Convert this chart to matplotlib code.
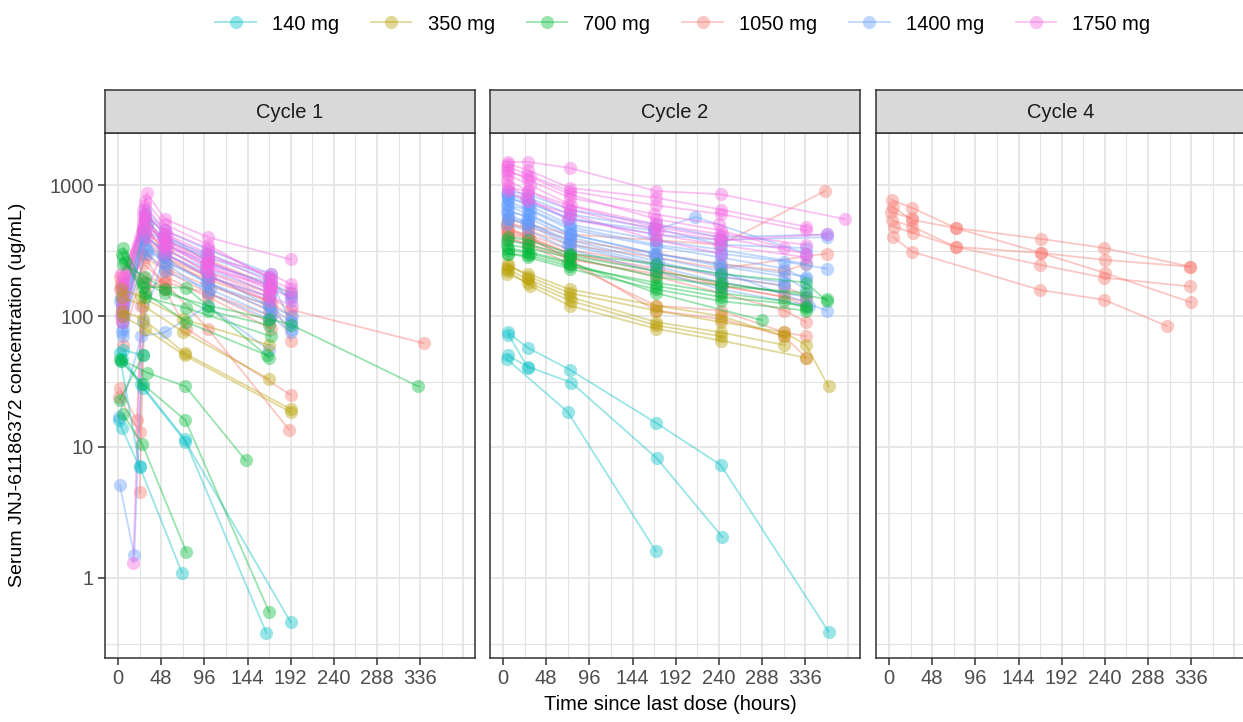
import matplotlib
matplotlib.use("Agg")
import matplotlib.pyplot as plt
from matplotlib.lines import Line2D
import numpy as np

plt.rcParams['font.family'] = ['Liberation Sans', 'DejaVu Sans']

# ---------------------------------------------------------------------------
# data: one (times, concentrations) pair per subject
# ---------------------------------------------------------------------------
doses = ['140 mg', '350 mg', '700 mg', '1050 mg', '1400 mg', '1750 mg']
dose_colors = ['#00BFC4', '#B79F00', '#00BA38', '#F8766D', '#619CFF', '#F564E3']
cycles = ['Cycle 1', 'Cycle 2', 'Cycle 4']
x_ticks = [0, 48, 96, 144, 192, 240, 288, 336]
y_ticks = [1, 10, 100, 1000]

# Cycle 1
c1_140 = [([2, 26, 74, 165], [52, 30, 11.5, 0.38]),
          ([4, 28, 75, 192], [47, 28, 11, 0.46]),
          ([3, 24, 71], [45, 7.1, 1.1]),
          ([1, 4, 24], [16, 14, 7]),
          ([6, 28], [55, 50])]
c1_350 = [([4, 28, 74, 192], [110, 95, 52, 19.5]),
          ([5, 30, 74, 192], [100, 80, 50, 18.5]),
          ([4, 28, 72, 168], [140, 120, 76, 33]),
          ([3, 26, 72, 168], [160, 140, 95, 60])]
c1_700 = [([6, 28, 52, 100, 168, 192, 334], [330, 180, 150, 120, 95, 86, 29]),
          ([4, 28, 76, 168], [300, 167, 164, 48]),
          ([8, 30, 76, 166], [260, 150, 90, 50]),
          ([2, 32, 75, 142], [47, 37, 29, 7.9]),
          ([3, 28, 75, 168], [45, 30, 16, 0.55]),
          ([5, 27, 76], [18, 10.5, 1.58]),
          ([2, 28], [23, 50]),
          ([5, 30, 76, 170], [280, 140, 115, 70]),
          ([6, 30, 52, 100, 168], [250, 200, 160, 110, 85])]
c1_1050 = [([4, 28, 52, 100, 168, 192, 340], [130, 400, 280, 200, 140, 112, 62]),
           ([2, 21, 28, 52, 100, 168], [28, 16, 200, 180, 150, 90]),
           ([24, 30, 52, 100, 170], [4.5, 150, 200, 140, 80]),
           ([5, 28, 52, 76, 192], [110, 300, 160, 80, 25]),
           ([4, 28, 52, 100, 190], [90, 250, 180, 80, 13.6]),
           ([3, 30, 52, 100, 170, 192], [170, 550, 380, 270, 170, 150]),
           ([6, 28, 54, 98, 168, 192], [120, 450, 320, 220, 150, 65]),
           ([2, 32, 52, 100, 168], [200, 500, 280, 180, 110]),
           ([4, 26, 52, 100, 170], [140, 320, 230, 170, 120]),
           ([5, 30, 50, 100, 166], [100, 420, 300, 200, 130]),
           ([1, 24, 30, 52], [24, 13, 180, 160]),
           ([3, 28, 52, 100, 168, 192], [180, 380, 260, 190, 130, 100]),
           ([5, 30, 54, 100, 170], [60, 280, 220, 150, 100])]
c1_1400 = [([4, 30, 52, 100, 170], [110, 650, 450, 320, 210]),
           ([6, 32, 54, 98, 168, 192], [90, 500, 350, 250, 180, 150]),
           ([2, 18, 28, 52, 100, 168], [5.1, 1.5, 90, 300, 200, 140]),
           ([3, 30, 52, 100, 168, 192], [140, 420, 300, 210, 120, 90]),
           ([5, 28, 50, 98, 170, 194], [70, 380, 280, 180, 110, 80]),
           ([4, 30, 54, 100, 168], [120, 350, 250, 150, 95]),
           ([6, 32, 52, 102, 170, 192], [160, 300, 220, 160, 100, 75]),
           ([1, 26, 52, 100, 168], [17, 70, 75, 120, 55]),
           ([4, 28, 52, 100, 170, 192], [100, 450, 380, 280, 190, 130]),
           ([5, 30, 50, 98, 168, 192], [80, 550, 400, 300, 200, 90]),
           ([2, 30, 52, 100, 168, 192], [130, 600, 420, 260, 170, 140]),
           ([6, 28, 50, 98, 170], [100, 400, 330, 230, 150]),
           ([4, 32, 52, 100, 168, 194], [75, 320, 260, 180, 120, 100])]
c1_1750 = [([6, 32, 52, 100, 192], [150, 870, 550, 400, 270]),
           ([4, 30, 52, 100, 168], [120, 700, 450, 330, 200]),
           ([5, 30, 54, 100, 170], [200, 600, 420, 300, 180]),
           ([3, 28, 52, 98, 168, 192], [100, 520, 380, 250, 160, 140]),
           ([6, 30, 50, 100, 168], [180, 450, 350, 240, 150]),
           ([4, 32, 52, 102, 170], [90, 400, 300, 200, 130]),
           ([2, 28, 52, 100, 170, 192], [160, 650, 420, 280, 210, 175]),
           ([17, 26, 52, 100, 170], [1.3, 120, 350, 260, 160]),
           ([5, 30, 52, 98, 168, 194], [130, 560, 330, 220, 140, 120]),
           ([3, 28, 50, 100, 170], [210, 480, 400, 260, 170]),
           ([4, 30, 52, 100, 170, 192], [110, 760, 500, 350, 190, 160]),
           ([6, 28, 54, 100, 168], [170, 580, 360, 230, 170])]

# Cycle 2
c2_140 = [([5, 28, 74, 170, 242, 362], [75, 57, 39, 15.3, 7.3, 0.39]),
          ([5, 28, 76, 171, 244], [50, 41, 31, 8.2, 2.05]),
          ([4, 72, 170], [47, 18.5, 1.6]),
          ([6, 28], [72, 40])]
c2_350 = [([5, 28, 74, 170, 242, 313, 337, 362], [250, 200, 150, 110, 90, 75, 60, 29]),
          ([4, 28, 74, 170, 242, 313], [230, 190, 140, 90, 75, 60]),
          ([6, 30, 74, 170, 242, 337], [220, 170, 120, 80, 65, 48]),
          ([5, 28, 74, 170, 242, 313], [240, 210, 160, 120, 100, 70]),
          ([4, 28, 76, 170, 242], [210, 180, 130, 85, 70])]
c2_700 = [([5, 28, 74, 170, 242, 337, 360], [400, 380, 300, 250, 210, 180, 130]),
          ([4, 28, 74, 170, 242, 337], [350, 330, 280, 200, 170, 150]),
          ([6, 30, 74, 170, 242, 337], [320, 300, 250, 170, 140, 120]),
          ([5, 28, 74, 170, 242, 337], [300, 280, 230, 160, 130, 110]),
          ([5, 28, 72, 170, 288], [330, 310, 260, 150, 93]),
          ([4, 28, 74, 170, 242, 360], [380, 350, 290, 220, 180, 135]),
          ([5, 28, 74, 170, 242, 313, 337], [300, 290, 240, 180, 150, 130, 115])]
c2_1050 = [([5, 28, 74, 170, 242, 358], [550, 500, 420, 380, 350, 900]),
           ([4, 28, 74, 170, 242, 313, 337], [500, 480, 380, 300, 250, 220, 250]),
           ([6, 28, 74, 170, 242, 313, 337], [450, 420, 320, 250, 200, 170, 140]),
           ([5, 30, 74, 170, 242, 313, 337], [420, 380, 280, 200, 150, 110, 90]),
           ([5, 28, 74, 170, 242, 313, 337], [400, 350, 250, 120, 110, 75, 70]),
           ([4, 28, 74, 170, 242, 313, 337], [480, 400, 270, 110, 95, 70, 48]),
           ([6, 28, 74, 170, 242, 360], [520, 450, 350, 280, 230, 300]),
           ([5, 28, 74, 172, 244, 337], [450, 400, 300, 230, 170, 130]),
           ([5, 28, 74, 170, 242, 313, 337], [380, 360, 270, 210, 170, 140, 120]),
           ([4, 28, 74, 170, 242, 313], [430, 400, 300, 220, 180, 150])]
c2_1400 = [([5, 28, 74, 170, 242, 360], [900, 850, 650, 500, 400, 420]),
           ([4, 28, 72, 168, 214, 337], [850, 750, 550, 450, 570, 300]),
           ([6, 28, 74, 170, 242, 337], [800, 700, 500, 380, 320, 250]),
           ([5, 30, 74, 170, 242, 313, 360], [750, 650, 480, 350, 300, 260, 230]),
           ([4, 28, 76, 168, 240, 337], [700, 600, 420, 300, 250, 200]),
           ([5, 28, 74, 170, 242, 360], [650, 560, 400, 280, 220, 110]),
           ([6, 26, 74, 172, 242, 313], [600, 520, 380, 260, 200, 170]),
           ([5, 28, 72, 170, 244, 337], [550, 500, 350, 240, 180, 140]),
           ([4, 28, 74, 170, 242, 340], [500, 450, 320, 220, 160, 120]),
           ([5, 30, 74, 168, 242, 360], [800, 720, 560, 420, 380, 400]),
           ([5, 28, 74, 170, 242, 313, 337], [700, 650, 460, 340, 280, 230, 190]),
           ([4, 30, 74, 170, 242, 313, 337], [620, 580, 420, 300, 240, 200, 160]),
           ([6, 28, 74, 170, 242, 313], [560, 520, 360, 250, 210, 180]),
           ([5, 28, 74, 168, 242, 337], [850, 800, 600, 470, 350, 330])]
c2_1750 = [([5, 28, 74, 170, 242, 380], [1500, 1500, 1350, 900, 850, 550]),
           ([4, 27, 74, 170, 242, 337], [1400, 1200, 900, 700, 600, 450]),
           ([6, 28, 74, 168, 240], [1300, 1100, 800, 600, 500]),
           ([5, 30, 76, 170, 244, 337], [1200, 1000, 700, 500, 420, 350]),
           ([4, 28, 74, 172, 242, 360], [1100, 900, 650, 450, 380, 420]),
           ([6, 26, 72, 170, 240, 337], [1000, 800, 550, 420, 350, 280]),
           ([5, 28, 74, 170, 242], [900, 750, 600, 380, 300]),
           ([5, 28, 74, 170, 242, 337], [1450, 1300, 950, 800, 650, 480]),
           ([4, 30, 74, 170, 242, 313], [1250, 1150, 850, 550, 450, 330]),
           ([6, 28, 72, 168, 240, 337], [950, 900, 700, 480, 400, 300])]

# Cycle 4 (1050 mg only)
c4_1050 = [([3, 26, 74, 169, 239, 335], [770, 668, 470, 388, 331, 238]),
           ([4, 26, 74, 169, 240, 335], [680, 541, 470, 303, 268, 238]),
           ([3, 26, 74, 169, 240, 336], [541, 480, 337, 303, 213, 127]),
           ([5, 27, 74, 168, 239, 335], [480, 431, 337, 246, 196, 168]),
           ([4, 26, 168, 239, 309], [403, 309, 158, 133, 84]),
           ([2, 25], [620, 560])]

panels = [
    [c1_140, c1_350, c1_700, c1_1050, c1_1400, c1_1750],
    [c2_140, c2_350, c2_700, c2_1050, c2_1400, c2_1750],
    [[], [], [], c4_1050, [], []],
]

# ---------------------------------------------------------------------------
# figure layout (pixels of a 1243x722 canvas)
# ---------------------------------------------------------------------------
W, H = 1243, 722
fig = plt.figure(figsize=(W / 100, H / 100), dpi=100)
panel_left = [105, 490, 876]
panel_w = 370
plot_top, plot_bot, strip_top = 133, 658, 90

ALPHA = 0.4
grid_c = '#E3E3E3'
draw_order = [3, 4, 5, 0, 1, 2]

for i, (cyc, groups) in enumerate(zip(cycles, panels)):
    x0 = panel_left[i] / W
    ax = fig.add_axes([x0, 1 - plot_bot / H, panel_w / W, (plot_bot - plot_top) / H])
    ax.set_yscale('log')
    ax.set_xlim(-14.5, 397)
    ax.set_ylim(0.245, 2495)

    # grid lines (major + minor, ggplot style)
    for gx in np.arange(0, 385, 24):
        ax.axvline(gx, color=grid_c, lw=1.2 if gx % 48 == 0 else 0.8, zorder=0)
    for gy in [0.316, 1, 3.16, 10, 31.6, 100, 316, 1000]:
        ax.axhline(gy, color=grid_c, lw=1.2 if gy in y_ticks else 0.8, zorder=0)

    for k in draw_order:
        for t, c in groups[k]:
            ax.plot(t, c, color=dose_colors[k], alpha=ALPHA, lw=1.3,
                    marker='o', ms=9.5, mew=0, zorder=2)

    ax.set_xticks(x_ticks)
    ax.set_xticklabels([str(v) for v in x_ticks])
    ax.set_yticks(y_ticks)
    ax.minorticks_off()
    ax.tick_params(colors='#333333', labelcolor='#4D4D4D', labelsize=14.5,
                   length=5, width=1.1, pad=3)
    if i == 0:
        ax.set_yticklabels(['1', '10', '100', '1000'])
    else:
        ax.set_yticklabels([])
        ax.tick_params(axis='y', length=0)
    for sp in ax.spines.values():
        sp.set_color('#333333')
        sp.set_linewidth(1.1)

    # facet strip
    sax = fig.add_axes([x0, 1 - plot_top / H, panel_w / W, (plot_top - strip_top) / H])
    sax.set_facecolor('#D9D9D9')
    sax.set_xticks([])
    sax.set_yticks([])
    for sp in sax.spines.values():
        sp.set_color('#333333')
        sp.set_linewidth(1.1)
    sax.text(0.5, 0.47, cyc, ha='center', va='center', fontsize=14.5,
             color='#1A1A1A', transform=sax.transAxes)

fig.text(18 / W, 1 - 395 / H, 'Serum JNJ-61186372 concentration (ug/mL)',
         rotation=90, ha='center', va='center', fontsize=14)
fig.text(670 / W, 1 - 704 / H, 'Time since last dose (hours)',
         ha='center', va='center', fontsize=14.5)

handles = [Line2D([0], [0], color=col, alpha=ALPHA, lw=1.3, marker='o', ms=9.5, mew=0)
           for col in dose_colors]
fig.legend(handles, doses, loc='center', bbox_to_anchor=(683 / W, 1 - 24 / H),
           ncol=6, frameon=False, fontsize=14.5, handlelength=2.0,
           columnspacing=1.6, handletextpad=0.8)

fig.savefig('out.png', dpi=100)
